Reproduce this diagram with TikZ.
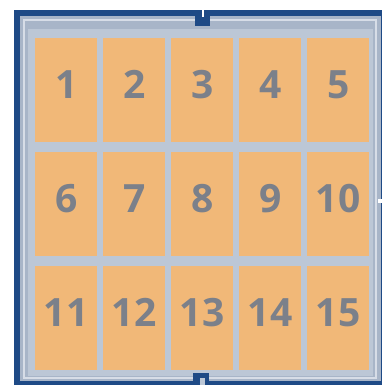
\documentclass[tikz,border=0pt]{standalone}
\usepackage{fontspec}
\setmainfont{Open Sans}
\definecolor{frameblue}{HTML}{1E4A86}
\definecolor{framegray}{HTML}{A8B5C8}
\definecolor{gapgray}{HTML}{BCC7D6}
\definecolor{tileorange}{HTML}{F1B878}
\definecolor{digitgray}{HTML}{7B808A}
\begin{document}
\begin{tikzpicture}[x=1pt,y=-1pt,
  tile/.style={fill=tileorange, anchor=north west, inner sep=0pt,
    minimum width=62pt, minimum height=104pt,
    text=digitgray, text height=28pt, text depth=12pt,
    font=\fontsize{39}{39}\selectfont\bfseries}]
\useasboundingbox (0,0) rectangle (382,385);

% frame
\fill[frameblue] (14,10) rectangle (382,385);
\fill[framegray] (20,16) rectangle (380.5,381);
\fill[gapgray] (28,29) rectangle (373,376);
\draw[gapgray!60!white, line width=1.5pt] (24,20) rectangle (376,378);

% notches
\fill[frameblue] (195,10) rectangle (210,26);
\draw[white, line width=1.2pt] (203,0) -- (203,17);
\fill[frameblue] (193,373) rectangle (209,385);
\fill[gapgray] (200,378) rectangle (205,385);
\fill[white] (378,199) rectangle (382,203);

% tiles
\foreach \row in {0,1,2}
  \foreach \col in {0,1,2,3,4} {
    \pgfmathtruncatemacro{\n}{5*\row+\col+1}
    \node[tile] (t\n) at ({35+68*\col},{38+114*\row}) {\n};
  }
\end{tikzpicture}
\end{document}
